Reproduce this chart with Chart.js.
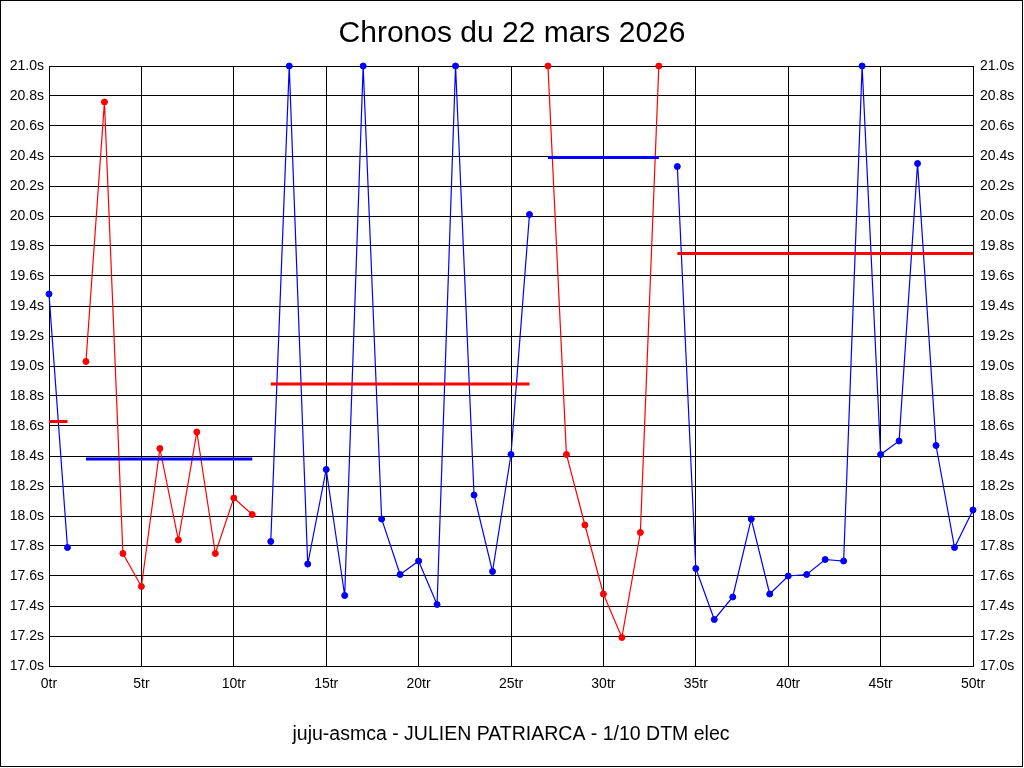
<!DOCTYPE html>
<html>
<head>
<meta charset="utf-8">
<script src="https://cdn.jsdelivr.net/npm/chart.js@4/dist/chart.umd.min.js"></script>
<style>
html,body{margin:0;padding:0;background:#fff;overflow:hidden}
#wrap{width:1024px;height:768px;position:relative}
canvas{display:block}
</style>
</head>
<body>
<div id="wrap"><canvas id="c" width="1024" height="768"></canvas></div>
<script>
const titleText = 'Chronos du 22 mars 2026';
const subtitleText = 'juju-asmca - JULIEN PATRIARCA - 1/10 DTM elec';

const laps = [0,1,2,3,4,5,6,7,8,9,10,11,12,13,14,15,16,17,18,19,20,21,22,23,24,25,26,27,28,29,30,31,32,33,34,35,36,37,38,39,40,41,42,43,44,45,46,47,48,49,50];
const lapTimes = [
  19.48, 17.79,
  19.03, 20.76, 17.75, 17.53, 18.45, 17.84, 18.56, 17.75, 18.12, 18.01,
  17.83, 21.00, 17.68, 18.31, 17.47, 21.00, 17.98, 17.61, 17.70, 17.41, 21.00, 18.14, 17.63, 18.41, 20.01,
  21.00, 18.41, 17.94, 17.48, 17.19, 17.89, 21.00,
  20.33, 17.65, 17.31, 17.46, 17.98, 17.48, 17.60, 17.61, 17.71, 17.70, 21.00, 18.41, 18.50, 20.35, 18.47, 17.79, 18.04
];
const stintStarts = [0, 2, 12, 27, 34];
const stintEnds = [1, 11, 26, 33, 50];
const stintAverages = [18.63, 18.38, 18.88, 20.39, 19.75];
const stintColors = ['#0000ff', '#ff0000', '#0000ff', '#ff0000', '#0000ff'];
const averageColors = ['#ff0000', '#0000ff', '#ff0000', '#0000ff', '#ff0000'];

const xTickValues = [0, 5, 10, 15, 20, 25, 30, 35, 40, 45, 50];
const yTickValues = [17.0,17.2,17.4,17.6,17.8,18.0,18.2,18.4,18.6,18.8,19.0,19.2,19.4,19.6,19.8,20.0,20.2,20.4,20.6,20.8,21.0];

const datasets = [];
stintStarts.forEach((s, i) => {
  const e = stintEnds[i];
  const pts = [];
  for (let k = 0; k < laps.length; k++) {
    if (laps[k] >= s && laps[k] <= e) pts.push({x: laps[k], y: lapTimes[k]});
  }
  datasets.push({
    data: pts,
    borderColor: stintColors[i],
    backgroundColor: stintColors[i],
    borderWidth: 1.2,
    pointRadius: 3,
    pointBorderWidth: 1,
    pointBackgroundColor: stintColors[i],
    pointBorderColor: stintColors[i],
    tension: 0,
    fill: false,
    clip: false,
    order: 1
  });
  datasets.push({
    data: [{x: s, y: stintAverages[i]}, {x: e, y: stintAverages[i]}],
    borderColor: averageColors[i],
    backgroundColor: averageColors[i],
    borderWidth: 3,
    pointRadius: 0,
    tension: 0,
    fill: false,
    clip: false,
    order: 0
  });
});

const FONT = "'Liberation Sans', Arial, sans-serif";

const framePlugin = {
  id: 'frame',
  beforeDraw(chart) {
    const ctx = chart.ctx;
    ctx.save();
    ctx.fillStyle = '#ffffff';
    ctx.fillRect(0, 0, chart.width, chart.height);
    ctx.restore();
  },
  afterDraw(chart) {
    const ctx = chart.ctx;
    ctx.save();
    ctx.strokeStyle = '#000000';
    ctx.lineWidth = 1;
    ctx.strokeRect(0.5, 0.5, 1022, 766);
    ctx.restore();
  }
};

new Chart(document.getElementById('c'), {
  type: 'line',
  data: { datasets },
  plugins: [framePlugin],
  options: {
    responsive: false,
    animation: false,
    devicePixelRatio: 1,
    layout: { padding: 0 },
    events: [],
    plugins: {
      legend: { display: false },
      tooltip: { enabled: false },
      title: {
        display: true,
        text: titleText,
        color: '#000',
        font: { family: FONT, size: 30, weight: 'normal' },
        padding: { top: 16, bottom: 14 }
      }
    },
    scales: {
      x: {
        type: 'linear',
        position: 'bottom',
        min: 0,
        max: 50,
        afterBuildTicks: (s) => { s.ticks = xTickValues.map(v => ({ value: v })); },
        afterFit: (s) => { s.height = 102; },
        ticks: {
          callback: (v) => v + 'tr',
          color: '#000',
          font: { family: FONT, size: 14 },
          padding: 10,
          maxRotation: 0,
          autoSkip: false
        },
        grid: { color: '#000', lineWidth: 1, drawTicks: false },
        border: { color: '#000', width: 1 },
        title: {
          display: true,
          text: subtitleText,
          color: '#000',
          font: { family: FONT, size: 19.5 },
          padding: { top: 4, bottom: 22 }
        }
      },
      y: {
        type: 'linear',
        position: 'left',
        min: 17,
        max: 21,
        afterBuildTicks: (s) => { s.ticks = yTickValues.map(v => ({ value: v })); },
        afterFit: (s) => { s.width = 49; },
        ticks: {
          callback: (v) => Number(v).toFixed(1) + 's',
          color: '#000',
          font: { family: FONT, size: 14 },
          padding: 5,
          autoSkip: false
        },
        grid: { color: '#000', lineWidth: 1, drawTicks: false },
        border: { color: '#000', width: 1 }
      },
      y2: {
        type: 'linear',
        position: 'right',
        min: 17,
        max: 21,
        afterBuildTicks: (s) => { s.ticks = yTickValues.map(v => ({ value: v })); },
        afterFit: (s) => { s.width = 51; },
        ticks: {
          callback: (v) => Number(v).toFixed(1) + 's',
          color: '#000',
          font: { family: FONT, size: 14 },
          padding: 7,
          autoSkip: false
        },
        grid: { drawOnChartArea: false, drawTicks: false },
        border: { color: '#000', width: 1 }
      }
    }
  }
});
</script>
</body>
</html>
